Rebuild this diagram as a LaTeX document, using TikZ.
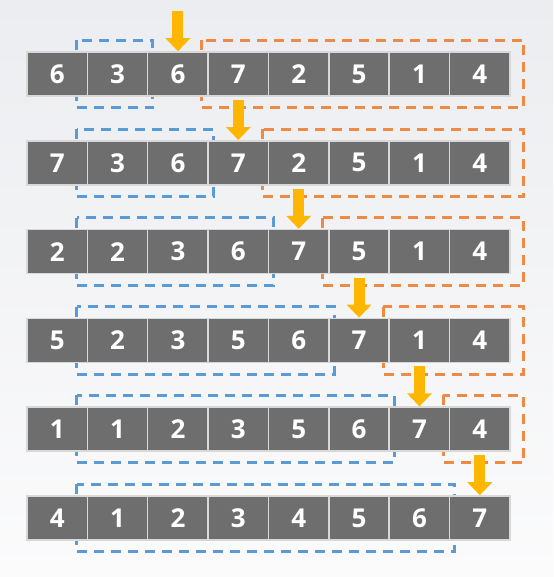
\documentclass[tikz,border=0pt]{standalone}
\usepackage{fontspec}
\newfontfamily\cellfont{Open Sans}
\usetikzlibrary{positioning, calc, arrows.meta, backgrounds}
\definecolor{CellGray}{HTML}{6E6E6E}
\definecolor{CellLine}{HTML}{D8D8D8}
\definecolor{SortedBlue}{HTML}{5B9BD5}
\definecolor{RestOrange}{HTML}{EE8A45}
\definecolor{PivotGold}{HTML}{FFB600}
\definecolor{BackTop}{HTML}{ECEDF0}
\definecolor{BackBottom}{HTML}{FBFBFC}

\tikzset{
  cellbox/.style={draw=CellLine,line width=1.5pt,fill=CellGray,minimum width=60.4pt,minimum height=44pt,inner sep=0pt,text=white,font=\cellfont\bfseries\fontsize{26}{26}\selectfont},
  sortedbox/.style={draw=SortedBlue,line width=3pt,dash pattern=on 10pt off 7pt},
  restbox/.style={draw=RestOrange,line width=3pt,dash pattern=on 10pt off 7pt},
  pivotarrow/.style={draw=PivotGold,line width=11pt,-{Triangle[width=24pt,length=13pt]}}
}

\begin{document}
\begin{tikzpicture}[x=1pt,y=1pt]
\useasboundingbox (0,0) rectangle (553,577);
\begin{scope}[on background layer]
\shade[top color=BackTop,bottom color=BackBottom] (0,0) rectangle (553,577);
\end{scope}
% one row per pass
\foreach \vals [count=\r] in {{6,3,6,7,2,5,1,4},{7,3,6,7,2,5,1,4},{2,2,3,6,7,5,1,4},{5,2,3,5,6,7,1,4},{1,1,2,3,5,6,7,4},{4,1,2,3,4,5,6,7}} {
  \pgfmathsetmacro\rowy{577-74-88.8*(\r-1)}
  \pgfmathtruncatemacro\piv{\r+1}
  \foreach \v [count=\c from 0] in \vals
    \node[cellbox] (cell-\r-\c) at ({27+60.375*(\c+0.5)},\rowy) {\v};
  % dashed groups behind the cells
  \begin{scope}[on background layer]
    \draw[sortedbox] ($(cell-\r-1.north west)+(-10pt,11pt)$) rectangle ($(cell-\r-\piv.south west)+(6pt,-11pt)$);
    \ifnum\piv<7
      \draw[restbox] ($(cell-\r-\piv.north east)+(-7pt,11pt)$) rectangle ($(cell-\r-7.south east)+(13pt,-11pt)$);
    \fi
  \end{scope}
  \coordinate (drop-\r) at ($(cell-\r-\piv.north)+(0,40pt)$);
  \draw[pivotarrow] (drop-\r) -- (cell-\r-\piv.north);
}
\end{tikzpicture}
\end{document}
